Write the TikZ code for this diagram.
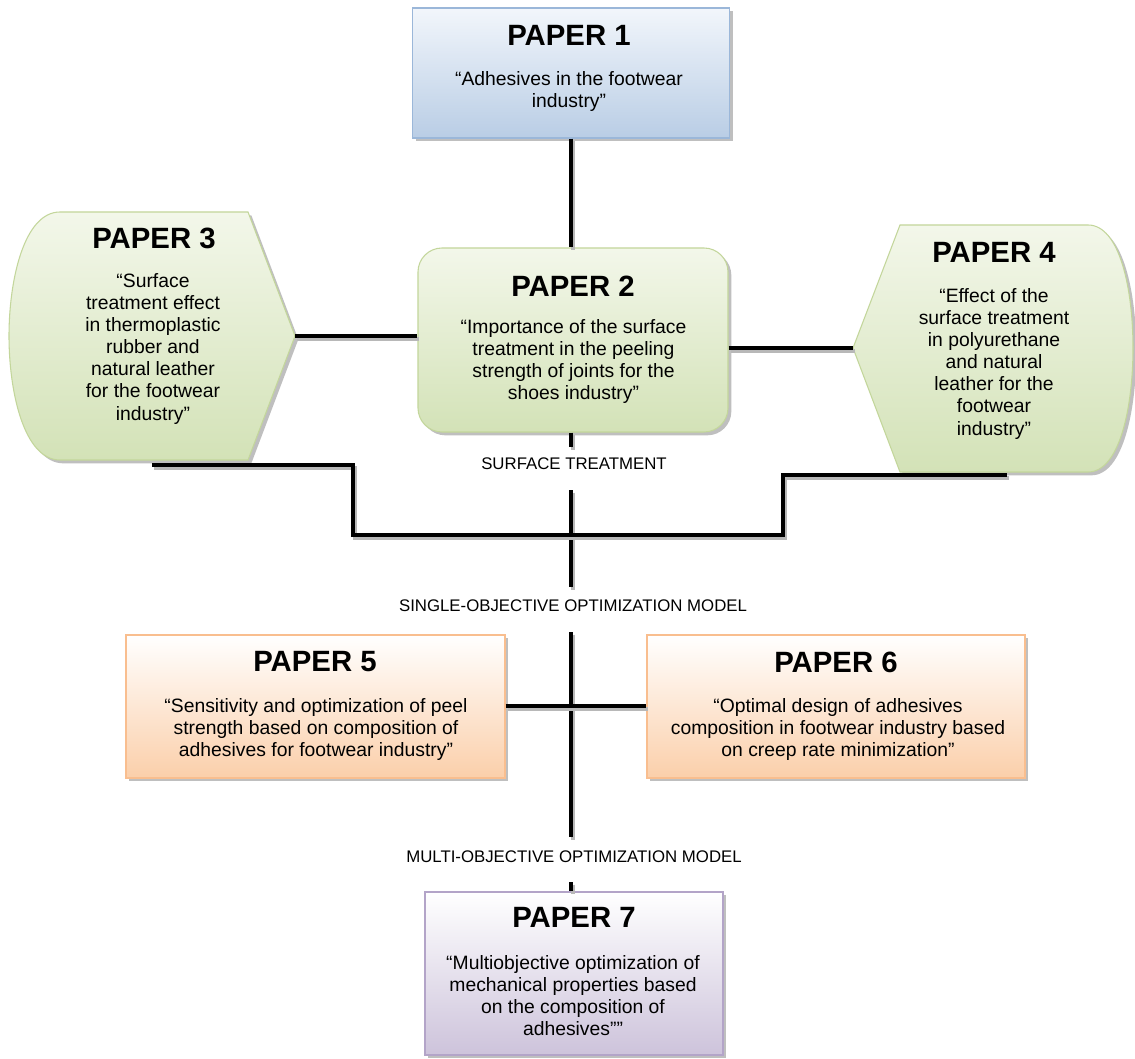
\documentclass[tikz,border=0pt]{standalone}
\usepackage{fontspec}
\setmainfont{Liberation Sans}
\usetikzlibrary{shadows}
\definecolor{blueB}{HTML}{9BB7D9}
\definecolor{blueF}{HTML}{B9CDE5}
\definecolor{blueT}{HTML}{F2F6FB}
\definecolor{greenB}{HTML}{C3D69B}
\definecolor{greenF}{HTML}{D3E2B7}
\definecolor{greenT}{HTML}{F3F7EA}
\definecolor{orangeB}{HTML}{F9BE8F}
\definecolor{orangeF}{HTML}{FBCFAA}
\definecolor{purpleB}{HTML}{B3A4C8}
\definecolor{purpleF}{HTML}{CDC3DB}
\newcommand\conn[1]{\draw[cshadow] #1; \draw[cline] #1;}
\begin{document}
\begin{tikzpicture}[x=0.75pt,y=-0.75pt,
  shad/.style={drop shadow={shadow xshift=2.5pt,shadow yshift=-2.5pt,fill=black!45,opacity=.55}},
  paperbox/.style={draw, line width=0.8pt, inner sep=0pt, shad},
  boxone/.style={paperbox, draw=blueB, top color=blueT, bottom color=blueF, minimum width=237.75pt, minimum height=97.5pt},
  boxtwo/.style={paperbox, draw=greenB, top color=greenT, bottom color=greenF, rounded corners=18pt, minimum width=232.5pt, minimum height=138pt},
  greenshape/.style={draw=greenB, line width=0.8pt, top color=greenT, bottom color=greenF, shad},
  boxorange/.style={paperbox, draw=orangeB, top color=white, bottom color=orangeF, minimum height=107.25pt},
  boxpurple/.style={paperbox, draw=purpleB, top color=white, bottom color=purpleF, minimum width=223.5pt, minimum height=122.25pt},
  ttl/.style={font=\fontsize{22}{26}\selectfont\bfseries, inner sep=0pt},
  body/.style={font=\fontsize{14.5}{16.6}\selectfont, align=center, inner sep=0pt, anchor=north},
  lbl/.style={font=\fontsize{12.6}{15}\selectfont, inner sep=0pt},
  cline/.style={line width=3pt, black, line join=miter},
  cshadow/.style={line width=3pt, black!28, line join=miter, transform canvas={xshift=1.5pt,yshift=-2pt}}
]
\useasboundingbox[fill=white] (0,0) rectangle (1135,1059);
\coordinate (spine) at (571,0);

% boxes
\node[boxone] (p1) at (571,73) {};
\node[boxtwo] (p2) at (573,340) {};
\node[boxorange, minimum width=284.25pt] (p5) at (315.5,706.5) {};
\node[boxorange, minimum width=283.5pt] (p6) at (836,706.5) {};
\node[boxpurple] (p7) at (574,973.5) {};

% paper 3 and 4 shapes
\path[greenshape] (248,212) -- (295,336) -- (248,460) -- (60,460)
  .. controls (24,460) and (9,392) .. (9,336)
  .. controls (9,280) and (24,212) .. (60,212) -- cycle;
\coordinate (p3tip) at (295,336);
\path[greenshape] (900,225) -- (1088,225)
  .. controls (1120,225) and (1133,290) .. (1133,348)
  .. controls (1133,406) and (1120,472) .. (1088,472) -- (900,472) -- (853,348) -- cycle;
\coordinate (p4tip) at (853,348);

% texts
\node[ttl] (t1) at (569,35) {PAPER 1};
\node[body] (b1) at (569,71) {“Adhesives in the footwear\\industry”};
\node[ttl] (t2) at (573,286) {PAPER 2};
\node[body] (b2) at (573.5,319) {“Importance of the surface\\treatment in the peeling\\strength of joints for the\\shoes industry”};
\node[ttl] (t3) at (154,238) {PAPER 3};
\node[body] (b3) at (153,273) {“Surface\\treatment effect\\in thermoplastic\\rubber and\\natural leather\\for the footwear\\industry”};
\node[ttl] (t4) at (994,252) {PAPER 4};
\node[body] (b4) at (994,288) {“Effect of the\\surface treatment\\in polyurethane\\and natural\\leather for the\\footwear\\industry”};
\node[ttl] (t5) at (315,662) {PAPER 5};
\node[body] (b5) at (316,698) {“Sensitivity and optimization of peel\\strength based on composition of\\adhesives for footwear industry”};
\node[ttl] (t6) at (836,662) {PAPER 6};
\node[body] (b6) at (838,698) {“Optimal design of adhesives\\composition in footwear industry based\\on creep rate minimization”};
\node[ttl] (t7) at (574,917) {PAPER 7};
\node[body] (b7) at (573,955) {“Multiobjective optimization of\\mechanical properties based\\on the composition of\\adhesives””};

% labels
\node[lbl] (st) at (574,464) {SURFACE TREATMENT};
\node[lbl] (so) at (573,606) {SINGLE-OBJECTIVE OPTIMIZATION MODEL};
\node[lbl] (mo) at (574,857) {MULTI-OBJECTIVE OPTIMIZATION MODEL};

% connector points
\coordinate (stTop) at (571,447);
\coordinate (stBot) at (571,490);
\coordinate (soTop) at (571,587);
\coordinate (soBot) at (571,632);
\coordinate (moTop) at (571,837);
\coordinate (moBot) at (571,882);
\coordinate (junc) at (571,535);
\coordinate (p3b) at (152,465);
\coordinate (p4b) at (1007,475);

% connectors
\conn{(p1.south) -- (spine |- p2.north)}
\conn{(p3tip) -- (p3tip -| p2.west)}
\conn{(p4tip -| p2.east) -- (p4tip)}
\conn{(spine |- p2.south) -- (stTop)}
\conn{(stBot) -- (soTop)}
\conn{(p3b) -- (353,465) -- (353,535) -- (junc)}
\conn{(junc) -- (783,535) -- (783,475) -- (p4b)}
\conn{(soBot) -- (moTop)}
\conn{(p5.east |- 0,706) -- (p6.west |- 0,706)}
\conn{(moBot) -- (spine |- p7.north)}
\end{tikzpicture}
\end{document}
